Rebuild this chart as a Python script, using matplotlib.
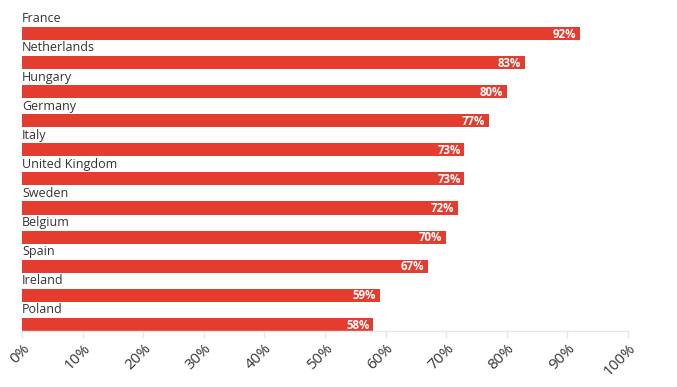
import matplotlib
matplotlib.use("Agg")
import matplotlib.pyplot as plt
from matplotlib.ticker import FuncFormatter

countries = ["France", "Netherlands", "Hungary", "Germany", "Italy", "United Kingdom",
             "Sweden", "Belgium", "Spain", "Ireland", "Poland"]
values = [92, 83, 80, 77, 73, 73, 72, 70, 67, 59, 58]
xticks = list(range(0, 101, 10))

plt.rcParams['font.family'] = ['Open Sans', 'DejaVu Sans']

fig = plt.figure(figsize=(6.77, 3.87), dpi=100)
ax = fig.add_axes([22/677, 1 - 331/387, (628-22)/677, (331-11.6)/387])

bar_color = "#E43D30"
ypos = list(range(len(countries)))
ax.barh(ypos, values, height=0.45, color=bar_color, zorder=2)

for y, name, v in zip(ypos, countries, values):
    ax.text(0, y - 0.5, name, ha='left', va='center', fontsize=9, color='#333333')
    ax.text(v - 0.6, y + 0.02, f"{v}%", ha='right', va='center', fontsize=8.3,
            color='white', fontweight='bold')

ax.set_xlim(0, 100)
ax.set_ylim(10.225, -0.75)
ax.set_xticks(xticks)
ax.xaxis.set_major_formatter(FuncFormatter(lambda x, p: f"{int(x)}%"))
ax.set_yticks([])
for s in ['top', 'right', 'left']:
    ax.spines[s].set_visible(False)
ax.spines['bottom'].set_color('#e6e6e6')
ax.spines['bottom'].set_linewidth(1)
ax.tick_params(axis='x', colors='#e6e6e6', length=5, width=1, labelcolor='#333333',
               labelsize=11, pad=2)
for lab in ax.get_xticklabels():
    lab.set_rotation(45)
    lab.set_ha('right')
    lab.set_rotation_mode('anchor')

fig.savefig("out.png", dpi=100)
